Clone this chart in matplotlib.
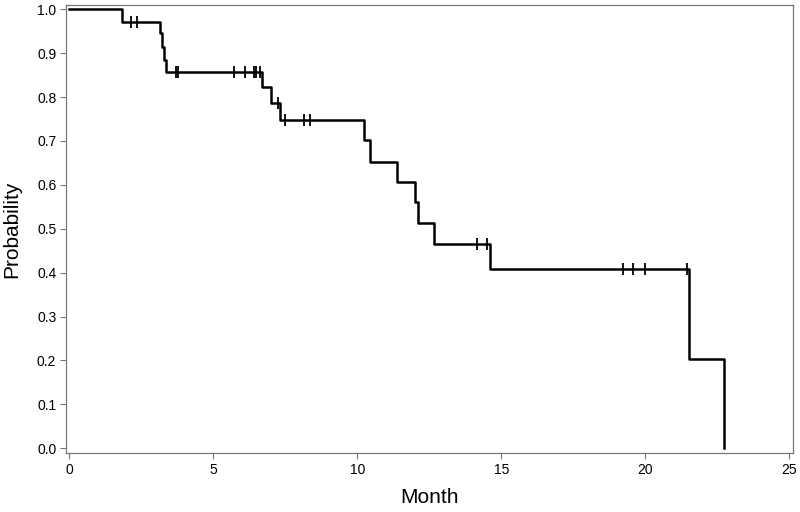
import numpy as np
import matplotlib.pyplot as plt

plt.rcParams['font.family'] = ['Liberation Sans', 'DejaVu Sans']

# Kaplan-Meier step data
times = [0, 1.81, 3.16, 3.22, 3.28, 3.37, 6.69, 7.0, 7.30, 10.24, 10.45,
         11.38, 12.01, 12.1, 12.65, 14.62, 21.53, 22.72]
surv = [1.0, 0.972, 0.945, 0.913, 0.884, 0.857, 0.822, 0.787, 0.747, 0.702,
        0.653, 0.607, 0.56, 0.512, 0.466, 0.408, 0.204, 0.0]

# censored observations
censored = [2.15, 2.33, 3.70, 3.78, 5.70, 6.08, 6.40, 6.49, 6.61, 7.25, 7.47,
            8.14, 8.37, 14.16, 14.50, 19.23, 19.57, 20.0, 21.45]

xticks = [0, 5, 10, 15, 20, 25]
yticks = np.round(np.arange(0, 1.01, 0.1), 1)

fig = plt.figure(figsize=(8, 5.12), dpi=100)
ax = fig.add_axes([0.0825, 0.115, 0.9085, 0.876])

ax.step(times, surv, where='post', color='black', lw=1.8)

idx = np.searchsorted(times, censored, side='right') - 1
cens_y = np.array(surv)[idx]
ax.plot(censored, cens_y, linestyle='none', marker='|', color='black',
        markersize=8, markeredgewidth=1.3)

ax.set_xlim(-0.12, 25.12)
ax.set_ylim(-0.011, 1.0105)
ax.set_xticks(xticks)
ax.set_yticks(yticks)
ax.set_yticklabels([f"{v:.1f}" for v in yticks])
ax.tick_params(direction='out', length=4, width=0.8, color='#777777',
               labelsize=10, pad=3)
for sp in ax.spines.values():
    sp.set_color('#777777')
    sp.set_linewidth(0.9)

ax.set_xlabel("Month", fontsize=15, labelpad=8)
ax.set_ylabel("Probability", fontsize=15, labelpad=11)

fig.savefig("out.png", dpi=100)
